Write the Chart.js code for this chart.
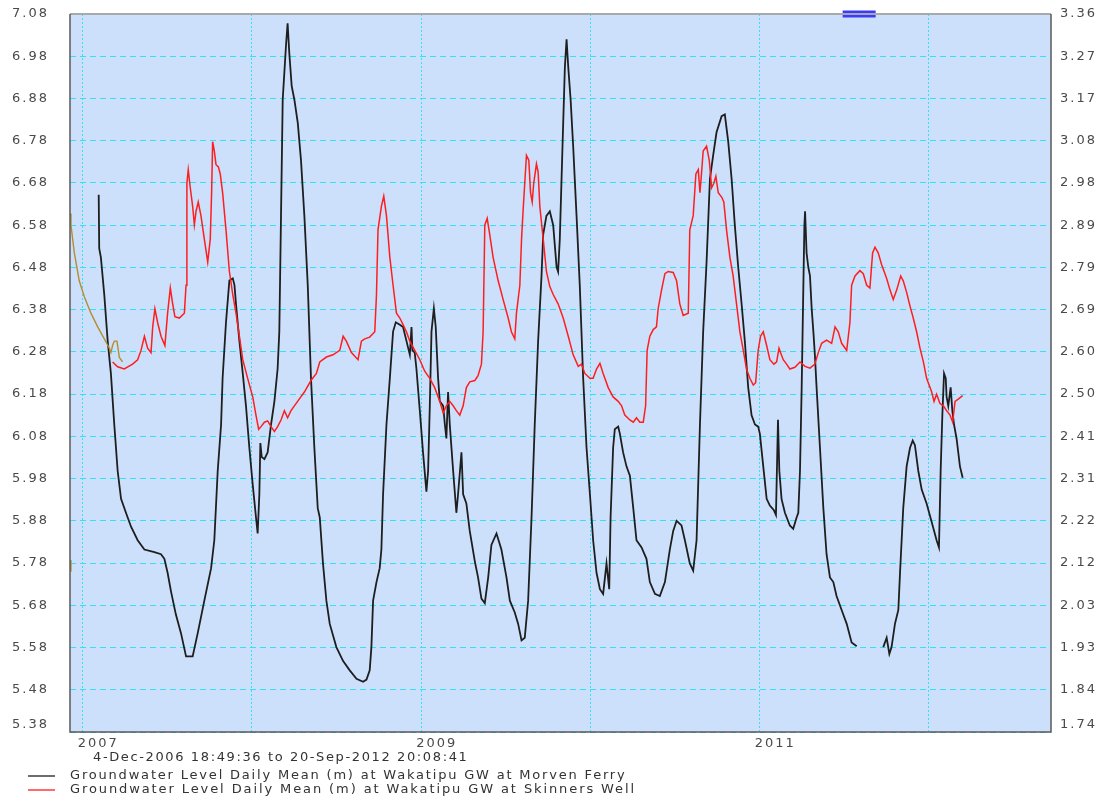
<!DOCTYPE html>
<html>
<head>
<meta charset="utf-8">
<title>Groundwater Level Daily Mean - Wakatipu GW</title>
<script src="https://cdn.jsdelivr.net/npm/chart.js@4.4.1/dist/chart.umd.min.js"></script>
<style>
  html, body { margin: 0; padding: 0; background: #fff; }
  #levelChart { display: block; }
</style>
</head>
<body>
<canvas id="levelChart" width="1103" height="801"></canvas>
<script>
// Period on the x axis, as decimal years
const periodStart = 2006.9254;   // 4-Dec-2006 18:49:36
const periodEnd = 2012.7209;     // 20-Sep-2012 20:08:41
const periodText = '4-Dec-2006 18:49:36 to 20-Sep-2012 20:08:41';

const yearTicks = [2007, 2008, 2009, 2010, 2011, 2012];
const yearLabels = ['2007', '', '2009', '', '2011', ''];

// tick labels, bottom to top
const leftTickLabels = ['5.38', '5.48', '5.58', '5.68', '5.78', '5.88', '5.98', '6.08', '6.18',
  '6.28', '6.38', '6.48', '6.58', '6.68', '6.78', '6.88', '6.98', '7.08'];
const rightTickLabels = ['1.74', '1.84', '1.93', '2.03', '2.12', '2.22', '2.31', '2.41', '2.50',
  '2.60', '2.69', '2.79', '2.89', '2.98', '3.08', '3.17', '3.27', '3.36'];

const seriesNames = [
  'Groundwater Level Daily Mean (m) at Wakatipu GW at Morven Ferry',
  'Groundwater Level Daily Mean (m) at Wakatipu GW at Skinners Well'
];

// [decimal year, level m] - Morven Ferry (left axis)
const morvenFerry = [
  [2007.095, 6.652], [2007.098, 6.525], [2007.108, 6.503], [2007.128, 6.415], [2007.148, 6.306],
  [2007.167, 6.229], [2007.187, 6.108], [2007.207, 5.998], [2007.227, 5.932], [2007.256, 5.899],
  [2007.286, 5.866], [2007.325, 5.834], [2007.365, 5.812], [2007.424, 5.806], [2007.463, 5.801],
  [2007.483, 5.790], [2007.502, 5.757], [2007.522, 5.713], [2007.551, 5.658], [2007.581, 5.614],
  [2007.611, 5.559], [2007.650, 5.559], [2007.680, 5.614], [2007.719, 5.691], [2007.759, 5.768],
  [2007.778, 5.834], [2007.798, 5.998], [2007.818, 6.108], [2007.827, 6.218], [2007.847, 6.350],
  [2007.867, 6.449], [2007.887, 6.454], [2007.897, 6.438], [2007.906, 6.394], [2007.926, 6.306],
  [2007.946, 6.229], [2007.965, 6.152], [2007.985, 6.053], [2008.005, 5.965], [2008.024, 5.889],
  [2008.034, 5.850], [2008.044, 5.943], [2008.050, 6.064], [2008.058, 6.031], [2008.074, 6.026],
  [2008.093, 6.042], [2008.113, 6.108], [2008.133, 6.163], [2008.152, 6.240], [2008.162, 6.328],
  [2008.172, 6.602], [2008.182, 6.877], [2008.202, 7.009], [2008.211, 7.058], [2008.221, 6.987],
  [2008.235, 6.910], [2008.251, 6.877], [2008.271, 6.822], [2008.290, 6.734], [2008.310, 6.602],
  [2008.330, 6.438], [2008.349, 6.218], [2008.369, 6.053], [2008.389, 5.910], [2008.401, 5.888],
  [2008.420, 5.779], [2008.440, 5.691], [2008.460, 5.636], [2008.499, 5.581], [2008.539, 5.548],
  [2008.578, 5.526], [2008.618, 5.506], [2008.657, 5.499], [2008.677, 5.504], [2008.696, 5.526],
  [2008.706, 5.581], [2008.716, 5.691], [2008.736, 5.735], [2008.755, 5.768], [2008.765, 5.812],
  [2008.775, 5.943], [2008.795, 6.108], [2008.815, 6.218], [2008.834, 6.328], [2008.850, 6.350],
  [2008.874, 6.344], [2008.893, 6.339], [2008.913, 6.306], [2008.933, 6.273], [2008.943, 6.339],
  [2008.948, 6.284], [2008.962, 6.278], [2008.972, 6.240], [2008.992, 6.141], [2009.011, 6.042],
  [2009.031, 5.949], [2009.041, 5.998], [2009.051, 6.152], [2009.061, 6.328], [2009.075, 6.383],
  [2009.086, 6.339], [2009.100, 6.218], [2009.110, 6.163], [2009.130, 6.152], [2009.140, 6.108],
  [2009.149, 6.075], [2009.159, 6.185], [2009.169, 6.108], [2009.189, 5.998], [2009.208, 5.899],
  [2009.218, 5.943], [2009.238, 6.042], [2009.248, 5.943], [2009.267, 5.921], [2009.287, 5.856],
  [2009.317, 5.784], [2009.336, 5.746], [2009.356, 5.696], [2009.376, 5.685], [2009.396, 5.746],
  [2009.415, 5.823], [2009.445, 5.850], [2009.474, 5.812], [2009.504, 5.746], [2009.524, 5.691],
  [2009.553, 5.663], [2009.573, 5.636], [2009.593, 5.597], [2009.612, 5.603], [2009.632, 5.691],
  [2009.652, 5.888], [2009.671, 6.108], [2009.691, 6.306], [2009.711, 6.460], [2009.721, 6.558],
  [2009.740, 6.602], [2009.760, 6.613], [2009.780, 6.580], [2009.800, 6.481], [2009.809, 6.470],
  [2009.819, 6.547], [2009.835, 6.767], [2009.849, 6.954], [2009.859, 7.020], [2009.869, 6.954],
  [2009.883, 6.877], [2009.898, 6.767], [2009.918, 6.602], [2009.937, 6.438], [2009.957, 6.218],
  [2009.977, 6.053], [2009.997, 5.943], [2010.016, 5.834], [2010.036, 5.757], [2010.056, 5.718],
  [2010.075, 5.707], [2010.095, 5.779], [2010.111, 5.718], [2010.119, 5.888], [2010.134, 6.053],
  [2010.144, 6.097], [2010.164, 6.103], [2010.174, 6.086], [2010.193, 6.042], [2010.213, 6.009],
  [2010.233, 5.987], [2010.253, 5.910], [2010.272, 5.834], [2010.302, 5.817], [2010.331, 5.790],
  [2010.351, 5.735], [2010.381, 5.707], [2010.410, 5.702], [2010.440, 5.735], [2010.469, 5.812],
  [2010.489, 5.856], [2010.509, 5.880], [2010.538, 5.869], [2010.558, 5.834], [2010.587, 5.779],
  [2010.607, 5.762], [2010.627, 5.834], [2010.647, 6.108], [2010.666, 6.328], [2010.686, 6.492],
  [2010.706, 6.690], [2010.725, 6.745], [2010.745, 6.800], [2010.775, 6.838], [2010.794, 6.842],
  [2010.814, 6.778], [2010.834, 6.690], [2010.853, 6.580], [2010.873, 6.481], [2010.893, 6.394],
  [2010.912, 6.306], [2010.932, 6.196], [2010.952, 6.130], [2010.972, 6.108], [2010.991, 6.103],
  [2011.001, 6.086], [2011.021, 6.009], [2011.041, 5.932], [2011.060, 5.916], [2011.084, 5.905],
  [2011.096, 5.894], [2011.108, 6.119], [2011.116, 5.998], [2011.129, 5.932], [2011.149, 5.899],
  [2011.178, 5.869], [2011.198, 5.861], [2011.218, 5.888], [2011.228, 5.899], [2011.238, 5.998],
  [2011.248, 6.196], [2011.258, 6.438], [2011.264, 6.580], [2011.268, 6.613], [2011.277, 6.514],
  [2011.287, 6.481], [2011.297, 6.460], [2011.307, 6.383], [2011.317, 6.328], [2011.326, 6.273],
  [2011.336, 6.196], [2011.356, 6.053], [2011.376, 5.910], [2011.395, 5.801], [2011.415, 5.746],
  [2011.435, 5.735], [2011.454, 5.702], [2011.484, 5.669], [2011.514, 5.636], [2011.543, 5.592],
  [2011.573, 5.583], [2011.650, null], [2011.730, 5.581], [2011.750, 5.603], [2011.766, 5.565],
  [2011.779, 5.581], [2011.799, 5.636], [2011.819, 5.669], [2011.829, 5.757], [2011.848, 5.910],
  [2011.868, 6.009], [2011.888, 6.053], [2011.904, 6.070], [2011.917, 6.059], [2011.937, 5.998],
  [2011.957, 5.954], [2011.986, 5.921], [2012.016, 5.877], [2012.045, 5.834], [2012.059, 5.817],
  [2012.069, 5.998], [2012.079, 6.130], [2012.089, 6.229], [2012.099, 6.218], [2012.104, 6.174],
  [2012.114, 6.152], [2012.128, 6.196], [2012.138, 6.141], [2012.148, 6.108], [2012.163, 6.075],
  [2012.183, 6.009], [2012.199, 5.982]
];

// [decimal year, level m] - Skinners Well (right axis)
const skinnersWell = [
  [2007.177, 2.575], [2007.207, 2.564], [2007.246, 2.559], [2007.295, 2.570], [2007.325, 2.580],
  [2007.345, 2.601], [2007.365, 2.633], [2007.384, 2.606], [2007.404, 2.596], [2007.414, 2.654],
  [2007.427, 2.695], [2007.443, 2.664], [2007.463, 2.633], [2007.486, 2.612], [2007.502, 2.685],
  [2007.518, 2.742], [2007.532, 2.706], [2007.545, 2.677], [2007.571, 2.674], [2007.601, 2.685],
  [2007.611, 2.748], [2007.616, 2.978], [2007.624, 3.009], [2007.636, 2.968], [2007.650, 2.926],
  [2007.660, 2.884], [2007.670, 2.915], [2007.683, 2.936], [2007.699, 2.905], [2007.719, 2.852],
  [2007.739, 2.800], [2007.754, 2.852], [2007.762, 2.957], [2007.768, 3.072], [2007.778, 3.051],
  [2007.788, 3.020], [2007.802, 3.015], [2007.813, 2.999], [2007.827, 2.957], [2007.847, 2.873],
  [2007.867, 2.779], [2007.887, 2.727], [2007.906, 2.685], [2007.926, 2.633], [2007.946, 2.580],
  [2007.975, 2.538], [2008.005, 2.496], [2008.024, 2.455], [2008.040, 2.423], [2008.054, 2.429],
  [2008.074, 2.439], [2008.093, 2.442], [2008.113, 2.429], [2008.133, 2.418], [2008.152, 2.429],
  [2008.172, 2.444], [2008.192, 2.465], [2008.211, 2.449], [2008.231, 2.465], [2008.270, 2.486],
  [2008.310, 2.507], [2008.349, 2.533], [2008.381, 2.549], [2008.401, 2.575], [2008.440, 2.586],
  [2008.479, 2.591], [2008.519, 2.601], [2008.539, 2.633], [2008.558, 2.622], [2008.588, 2.596],
  [2008.627, 2.580], [2008.647, 2.622], [2008.667, 2.627], [2008.696, 2.631], [2008.726, 2.643],
  [2008.736, 2.727], [2008.745, 2.873], [2008.765, 2.926], [2008.779, 2.949], [2008.795, 2.905],
  [2008.815, 2.811], [2008.834, 2.748], [2008.854, 2.685], [2008.874, 2.674], [2008.893, 2.659],
  [2008.913, 2.643], [2008.933, 2.622], [2008.962, 2.601], [2008.992, 2.580], [2009.021, 2.554],
  [2009.051, 2.538], [2009.080, 2.517], [2009.110, 2.486], [2009.130, 2.460], [2009.149, 2.476],
  [2009.169, 2.486], [2009.189, 2.476], [2009.208, 2.465], [2009.228, 2.455], [2009.248, 2.476],
  [2009.267, 2.517], [2009.287, 2.530], [2009.317, 2.533], [2009.336, 2.544], [2009.356, 2.570],
  [2009.366, 2.643], [2009.376, 2.884], [2009.390, 2.899], [2009.405, 2.863], [2009.425, 2.811],
  [2009.455, 2.758], [2009.484, 2.716], [2009.514, 2.674], [2009.533, 2.643], [2009.553, 2.627],
  [2009.563, 2.685], [2009.583, 2.748], [2009.593, 2.852], [2009.602, 2.915], [2009.612, 2.978],
  [2009.622, 3.041], [2009.636, 3.030], [2009.646, 2.957], [2009.656, 2.936], [2009.665, 2.978],
  [2009.681, 3.022], [2009.691, 3.004], [2009.701, 2.926], [2009.721, 2.852], [2009.740, 2.779],
  [2009.760, 2.745], [2009.780, 2.727], [2009.809, 2.706], [2009.839, 2.674], [2009.869, 2.633],
  [2009.898, 2.591], [2009.928, 2.565], [2009.947, 2.570], [2009.967, 2.549], [2009.997, 2.538],
  [2010.016, 2.538], [2010.036, 2.559], [2010.056, 2.572], [2010.075, 2.549], [2010.105, 2.517],
  [2010.134, 2.496], [2010.164, 2.486], [2010.184, 2.476], [2010.203, 2.455], [2010.233, 2.444],
  [2010.253, 2.439], [2010.272, 2.449], [2010.292, 2.439], [2010.312, 2.439], [2010.326, 2.476],
  [2010.335, 2.601], [2010.351, 2.633], [2010.371, 2.648], [2010.390, 2.654], [2010.400, 2.695],
  [2010.420, 2.737], [2010.440, 2.774], [2010.459, 2.779], [2010.489, 2.777], [2010.509, 2.758],
  [2010.528, 2.706], [2010.548, 2.680], [2010.578, 2.685], [2010.587, 2.873], [2010.607, 2.905],
  [2010.623, 2.999], [2010.637, 3.009], [2010.647, 2.957], [2010.656, 2.999], [2010.666, 3.051],
  [2010.686, 3.062], [2010.702, 3.030], [2010.716, 2.968], [2010.729, 2.978], [2010.741, 2.994],
  [2010.755, 2.957], [2010.775, 2.947], [2010.788, 2.936], [2010.804, 2.873], [2010.824, 2.811],
  [2010.843, 2.769], [2010.863, 2.706], [2010.883, 2.643], [2010.903, 2.601], [2010.922, 2.559],
  [2010.942, 2.538], [2010.962, 2.523], [2010.976, 2.528], [2010.991, 2.601], [2011.005, 2.633],
  [2011.021, 2.643], [2011.041, 2.612], [2011.060, 2.580], [2011.084, 2.570], [2011.100, 2.575],
  [2011.114, 2.606], [2011.123, 2.596], [2011.139, 2.580], [2011.159, 2.570], [2011.178, 2.559],
  [2011.208, 2.563], [2011.238, 2.575], [2011.268, 2.565], [2011.297, 2.561], [2011.326, 2.570],
  [2011.346, 2.596], [2011.366, 2.617], [2011.395, 2.624], [2011.425, 2.617], [2011.445, 2.654],
  [2011.464, 2.643], [2011.484, 2.617], [2011.514, 2.601], [2011.533, 2.664], [2011.543, 2.748],
  [2011.563, 2.769], [2011.592, 2.781], [2011.612, 2.774], [2011.632, 2.748], [2011.651, 2.742],
  [2011.667, 2.821], [2011.681, 2.834], [2011.700, 2.821], [2011.720, 2.795], [2011.750, 2.763],
  [2011.770, 2.737], [2011.789, 2.716], [2011.809, 2.737], [2011.833, 2.769], [2011.848, 2.758],
  [2011.868, 2.732], [2011.888, 2.701], [2011.907, 2.674], [2011.927, 2.643], [2011.947, 2.606],
  [2011.967, 2.575], [2011.986, 2.538], [2012.016, 2.507], [2012.030, 2.486], [2012.045, 2.502],
  [2012.065, 2.481], [2012.085, 2.476], [2012.104, 2.465], [2012.124, 2.455], [2012.140, 2.439],
  [2012.154, 2.486], [2012.173, 2.491], [2012.199, 2.499]
];

// early Skinners Well readings, drawn in olive in the original
const skinnersEarly = [
  [2006.926, 2.910], [2006.931, 2.884], [2006.951, 2.821], [2006.980, 2.758], [2007.010, 2.722],
  [2007.049, 2.685], [2007.089, 2.654], [2007.128, 2.627], [2007.158, 2.606], [2007.167, 2.596],
  [2007.177, 2.612], [2007.187, 2.622], [2007.203, 2.622], [2007.217, 2.585], [2007.236, 2.575]
];
const skinnersStub = [[2006.927, 2.104], [2006.929, 2.128]];

// blue marker along the top edge
const gapMarker = [[2011.490, 7.08], [2011.685, 7.08]];

const plotColor = '#cce0fc';
const gridColor = '#34e0f2';
const tickColor = '#4a4a4a';
const tickFont = { family: 'DejaVu Sans', size: 13 };

function toPoints(pairs) {
  return pairs.map(p => ({ x: p[0], y: p[1] }));
}

// fill the plot, draw the frame and the period / legend text
const plotFrame = {
  id: 'plotFrame',
  beforeDraw(chart) {
    const { ctx, chartArea: a } = chart;
    ctx.letterSpacing = '2px';
    ctx.save();
    ctx.fillStyle = plotColor;
    ctx.fillRect(a.left, a.top, a.right - a.left, a.bottom - a.top);
    ctx.restore();
  },
  afterDraw(chart) {
    const { ctx, chartArea: a } = chart;
    ctx.save();
    ctx.letterSpacing = '0px';
    ctx.lineWidth = 2;
    ctx.strokeStyle = '#a9a9a9';
    ctx.beginPath();
    ctx.moveTo(a.left, a.top);
    ctx.lineTo(a.right, a.top);
    ctx.stroke();
    ctx.lineWidth = 1.5;
    ctx.strokeStyle = '#5a5a5a';
    ctx.beginPath();
    ctx.moveTo(a.left, a.top);
    ctx.lineTo(a.left, a.bottom);
    ctx.lineTo(a.right, a.bottom);
    ctx.lineTo(a.right, a.top);
    ctx.stroke();

    ctx.font = '13px "DejaVu Sans"';
    ctx.fillStyle = '#333';
    ctx.textBaseline = 'middle';
    spacedText(ctx, periodText, 93, 758, 374);

    const legendWidths = [555, 564];
    chart.data.datasets.slice(0, 2).forEach((ds, i) => {
      const y = 776 + i * 14;
      ctx.letterSpacing = '0px';
      ctx.strokeStyle = i === 0 ? '#3c3c3c' : '#ff3a3a';
      ctx.lineWidth = 1.5;
      ctx.beginPath();
      ctx.moveTo(28, y);
      ctx.lineTo(55, y);
      ctx.stroke();
      spacedText(ctx, ds.label, 70, y, legendWidths[i]);
    });
    ctx.restore();
  }
};

function spacedText(ctx, text, x, y, width) {
  ctx.letterSpacing = '0px';
  const natural = ctx.measureText(text).width;
  const gap = Math.max(0, (width - natural) / (text.length - 1));
  ctx.letterSpacing = gap.toFixed(2) + 'px';
  ctx.fillText(text, x, y);
}

// fixed axis sizes so the plot sits where the original has it
function fixedSize(size, vertical) {
  return scale => {
    if (vertical) scale.width = size; else scale.height = size;
    scale.paddingTop = 0;
    scale.paddingBottom = 0;
    scale.paddingLeft = 0;
    scale.paddingRight = 0;
  };
}

const rightMin = parseFloat(rightTickLabels[0]);
const rightMax = parseFloat(rightTickLabels[rightTickLabels.length - 1]);

const levelChart = new Chart(document.getElementById('levelChart'), {
  type: 'line',
  data: {
    datasets: [
      {
        label: seriesNames[0],
        data: toPoints(morvenFerry),
        yAxisID: 'y',
        borderColor: '#1e1e1e',
        borderWidth: 1.8,
        pointRadius: 0,
        order: 2
      },
      {
        label: seriesNames[1],
        data: toPoints(skinnersWell),
        yAxisID: 'y2',
        borderColor: '#ff1e1e',
        borderWidth: 1.5,
        pointRadius: 0,
        order: 1
      },
      {
        label: 'early',
        data: toPoints(skinnersEarly),
        yAxisID: 'y2',
        borderColor: '#b38d2e',
        borderWidth: 1.4,
        pointRadius: 0,
        order: 1
      },
      {
        label: 'stub',
        data: toPoints(skinnersStub),
        yAxisID: 'y2',
        borderColor: '#b38d2e',
        borderWidth: 2,
        pointRadius: 0,
        order: 1
      },
      {
        label: 'gap',
        data: toPoints(gapMarker),
        yAxisID: 'y',
        borderColor: '#3b3bff',
        borderWidth: 7,
        borderCapStyle: 'butt',
        pointRadius: 0,
        clip: false,
        order: 0
      }
    ]
  },
  options: {
    responsive: false,
    animation: false,
    events: [],
    layout: { padding: { top: 14, left: 0, right: 0, bottom: 0 } },
    plugins: {
      legend: { display: false },
      tooltip: { enabled: false }
    },
    scales: {
      x: {
        type: 'linear',
        position: 'bottom',
        min: periodStart,
        max: periodEnd,
        afterBuildTicks: scale => { scale.ticks = yearTicks.map(v => ({ value: v })); },
        afterFit: fixedSize(69, false),
        ticks: {
          callback: (value, index) => yearLabels[index],
          autoSkip: false,
          maxRotation: 0,
          align: 'start',
          labelOffset: -5,
          padding: 4,
          color: tickColor,
          font: tickFont
        },
        grid: { color: gridColor, lineWidth: 1, drawTicks: false },
        border: { display: false, dash: [2, 2] }
      },
      y: {
        type: 'linear',
        position: 'left',
        min: parseFloat(leftTickLabels[0]),
        max: parseFloat(leftTickLabels[leftTickLabels.length - 1]),
        afterBuildTicks: scale => {
          scale.ticks = leftTickLabels.map(t => ({ value: parseFloat(t) }));
        },
        afterFit: fixedSize(70, true),
        ticks: {
          callback: (value, index) => index === 0 ? [leftTickLabels[0], ''] : leftTickLabels[index],
          autoSkip: false,
          padding: 21,
          color: tickColor,
          font: tickFont
        },
        grid: { color: gridColor, lineWidth: 1, drawTicks: false },
        border: { display: false, dash: [6, 4] }
      },
      y2: {
        type: 'linear',
        position: 'right',
        min: rightMin,
        max: rightMax,
        afterBuildTicks: scale => {
          const step = (rightMax - rightMin) / (rightTickLabels.length - 1);
          scale.ticks = rightTickLabels.map((t, i) => ({ value: rightMin + i * step }));
        },
        afterFit: fixedSize(52, true),
        ticks: {
          callback: (value, index) => index === 0 ? [rightTickLabels[0], ''] : rightTickLabels[index],
          autoSkip: false,
          padding: 9,
          color: tickColor,
          font: tickFont
        },
        grid: { display: false, drawTicks: false },
        border: { display: false }
      }
    }
  },
  plugins: [plotFrame]
});
</script>
</body>
</html>
